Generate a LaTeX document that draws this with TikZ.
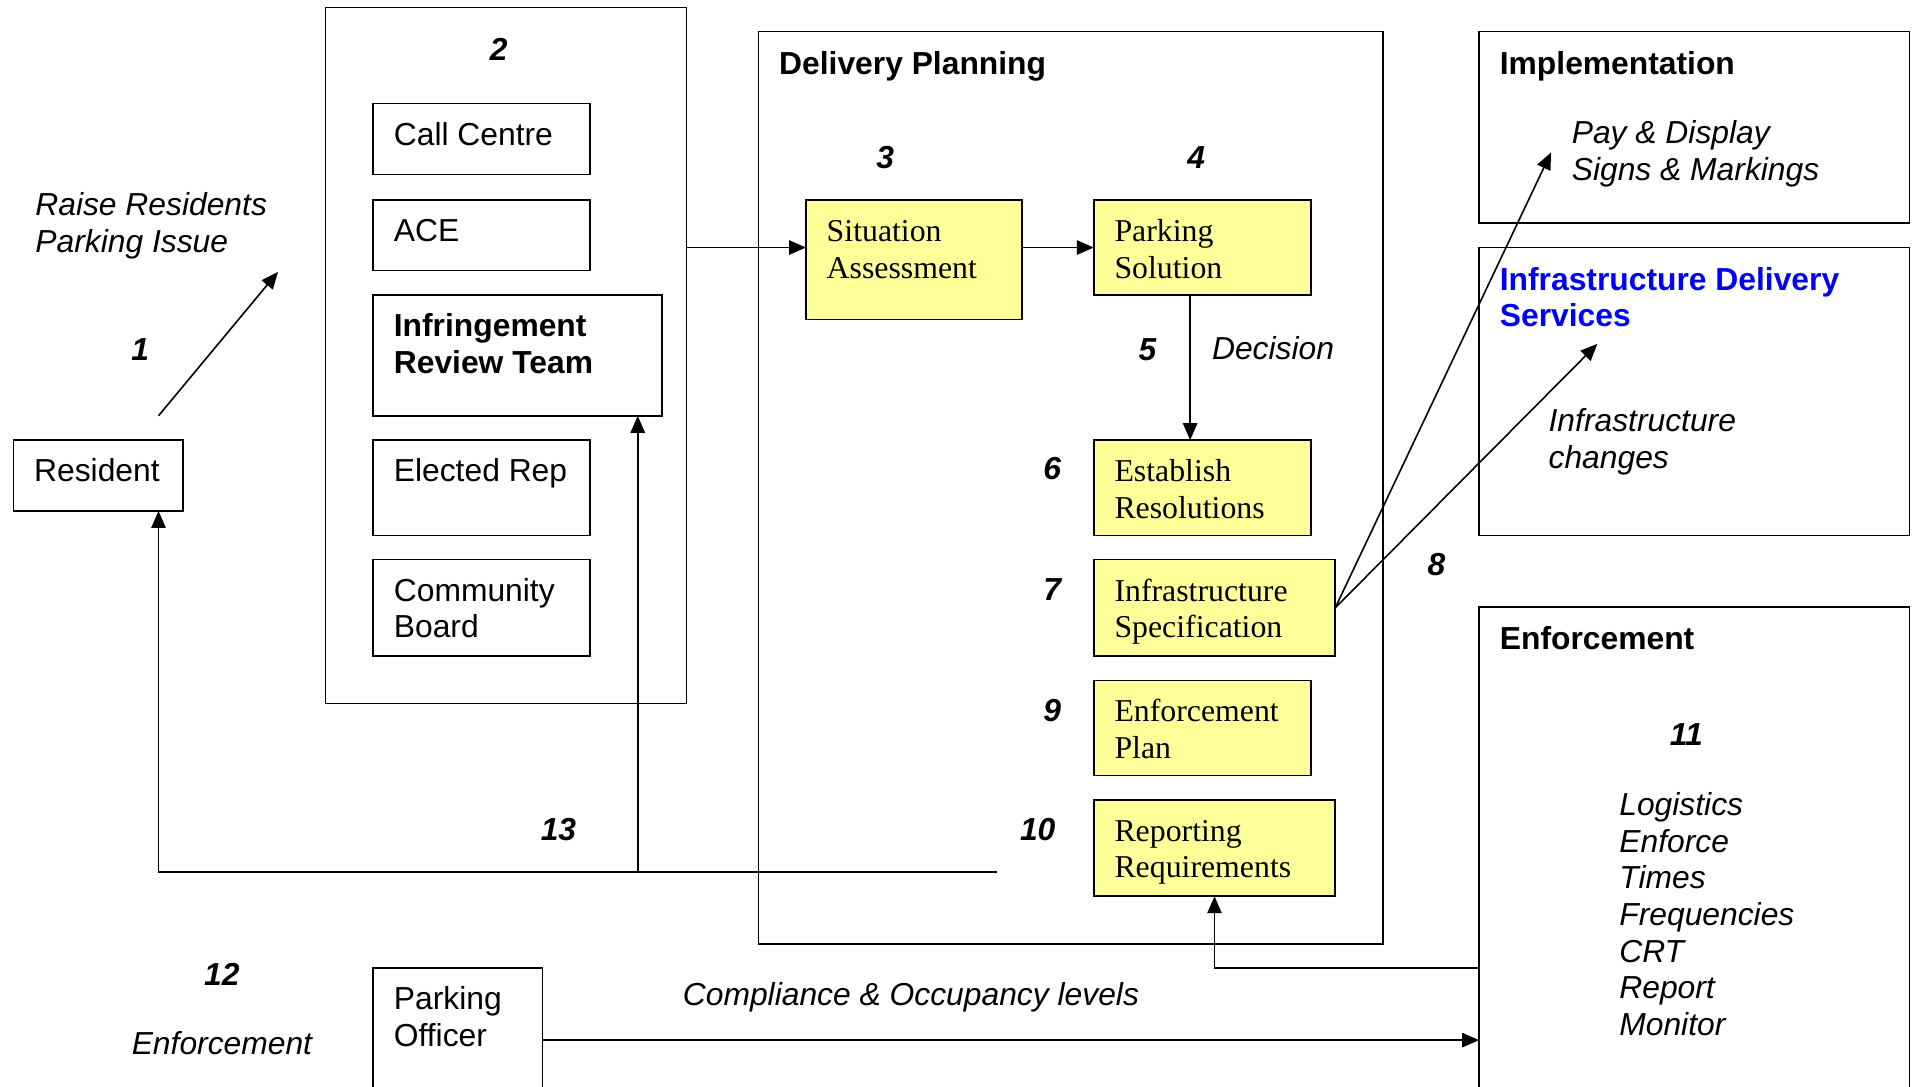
\documentclass[tikz,border=0pt]{standalone}
\usepackage{fontspec}
\setmainfont{Liberation Serif}
\setsansfont{Liberation Sans}
\usetikzlibrary{arrows.meta,calc}
\definecolor{paleyellow}{HTML}{FFFF99}
\definecolor{idsblue}{HTML}{0000FF}
\newcommand{\pu}{0.46pt}
\newcommand{\twelve}{\fontsize{12}{13.8}\selectfont}

\begin{document}
\begin{tikzpicture}[x=0.46pt, y=-0.46pt,
  frame/.style={draw=black, line width=0.6pt, rectangle, anchor=north west, inner sep=0pt, outer sep=0pt},
  stage/.style={frame, fill=paleyellow},
  txt/.style={anchor=north west, inner sep=0pt, outer sep=0pt, align=left, yshift=9.2pt, font=\twelve\sffamily},
  serif/.style={txt, font=\twelve\rmfamily},
  heading/.style={txt, font=\twelve\sffamily\bfseries},
  note/.style={txt, font=\twelve\sffamily\itshape},
  num/.style={anchor=base, inner sep=0pt, yshift=-0.6pt, font=\twelve\sffamily\bfseries\itshape},
  link/.style={line width=0.6pt},
  arr/.style={link, -{Triangle[length=6.4pt,width=5.4pt]}},
]
\useasboundingbox (0,0) rectangle (1568,891);
\fill[white] (0,0) rectangle (1568,891);
\clip (0,0) rectangle (1568,891);

% ---- resident ----
\node[frame, minimum width=139*\pu, minimum height=58*\pu] (res) at (11,361) {};
\node[txt] (rest) at ([shift={(17,33)}]res.north west) {\strut Resident};
\node[note] (raise) at (29,176) {\strut Raise Residents\\Parking Issue};
\node[num] (n1) at (115,294) {1};

% ---- contact channels (2) ----
\node[frame, minimum width=296*\pu, minimum height=571*\pu] (b2) at (267,6) {};
\node[num] (n2) at (409,48) {2};
\node[frame, minimum width=178*\pu, minimum height=58*\pu] (cc) at (306,85) {};
\node[txt] at ([shift={(17,33)}]cc.north west) {\strut Call Centre};
\node[frame, minimum width=178*\pu, minimum height=58*\pu] (ace) at (306,164) {};
\node[txt] at ([shift={(17,33)}]ace.north west) {\strut ACE};
\node[frame, minimum width=237*\pu, minimum height=99*\pu] (irt) at (306,242) {};
\node[heading] at ([shift={(17,33)}]irt.north west) {\strut Infringement\\Review Team};
\node[frame, minimum width=178*\pu, minimum height=78*\pu] (erep) at (306,361) {};
\node[txt] at ([shift={(17,33)}]erep.north west) {\strut Elected Rep};
\node[frame, minimum width=178*\pu, minimum height=79*\pu] (cb) at (306,459) {};
\node[txt] at ([shift={(17,33)}]cb.north west) {\strut Community\\Board};

% ---- delivery planning ----
\node[frame, minimum width=512*\pu, minimum height=748*\pu] (dp) at (622,26) {};
\node[heading] at ([shift={(17,34)}]dp.north west) {\strut Delivery Planning};
\node[stage, minimum width=177*\pu, minimum height=98*\pu] (sa) at (661,164) {};
\node[serif] at ([shift={(17,33)}]sa.north west) {\strut Situation\\Assessment};
\node[stage, minimum width=178*\pu, minimum height=78*\pu] (ps) at (897,164) {};
\node[serif] at ([shift={(17,33)}]ps.north west) {\strut Parking\\Solution};
\node[stage, minimum width=178*\pu, minimum height=78*\pu] (er) at (897,361) {};
\node[serif] at ([shift={(17,33)}]er.north west) {\strut Establish\\Resolutions};
\node[stage, minimum width=198*\pu, minimum height=79*\pu] (is) at (897,459) {};
\node[serif] at ([shift={(17,33)}]is.north west) {\strut Infrastructure\\Specification};
\node[stage, minimum width=178*\pu, minimum height=78*\pu] (ep) at (897,558) {};
\node[serif] at ([shift={(17,33)}]ep.north west) {\strut Enforcement\\Plan};
\node[stage, minimum width=198*\pu, minimum height=79*\pu] (rr) at (897,656) {};
\node[serif] at ([shift={(17,33)}]rr.north west) {\strut Reporting\\Requirements};
\node[num] (n3) at (726,137) {3};
\node[num] (n4) at (981,137) {4};
\node[num] (n5) at (941,294) {5};
\node[note] (dec) at (994,294) {\strut Decision};
\node[num] (n6) at (863,392) {6};
\node[num] (n7) at (863,491) {7};
\node[num] (n9) at (863,590) {9};
\node[num] (n10) at (851,688) {10};

% ---- implementation / infrastructure delivery ----
\node[frame, minimum width=353*\pu, minimum height=157*\pu] (impl) at (1213,26) {};
\node[heading] at ([shift={(17,34)}]impl.north west) {\strut Implementation};
\node[note] at (1289,117) {\strut Pay \& Display\\Signs \& Markings};
\node[frame, minimum width=353*\pu, minimum height=236*\pu] (ids) at (1213,203) {};
\node[heading, text=idsblue] at ([shift={(17,34)}]ids.north west) {\strut Infrastructure Delivery\\Services};
\node[note] at (1270,353) {\strut Infrastructure\\changes};
\node[num] (n8) at (1178,471) {8};

% ---- enforcement ----
\node[frame, minimum width=353*\pu, minimum height=420*\pu] (enf) at (1213,498) {};
\node[heading] at ([shift={(17,34)}]enf.north west) {\strut Enforcement};
\node[num] (n11) at (1383,610) {11};
\node[note] at (1328,668) {\strut Logistics\\Enforce\\Times\\Frequencies\\CRT\\Report\\Monitor};

% ---- parking officer ----
\node[frame, minimum width=139*\pu, minimum height=118*\pu] (po) at (306,794) {};
\node[txt] at ([shift={(17,33)}]po.north west) {\strut Parking\\Officer};
\node[num] (n12) at (182,807) {12};
\node[note, anchor=north] at (182,864) {\strut Enforcement};
\node[note] (comp) at (560,824) {\strut Compliance \& Occupancy levels};
\node[num] (n13) at (458,688) {13};

% ---- connector end points ----
\coordinate (raiseFrom) at ([shift={(-20,-20)}]res.north east);
\coordinate (raiseTo) at (228,223);
\coordinate (resIn) at ([xshift=-20*\pu]res.south east);
\coordinate (irtIn) at ([xshift=-20*\pu]irt.south east);
\coordinate (reportOut) at (818,715);
\coordinate (implTo) at (1272,125);
\coordinate (idsTo) at (1310,282);
\coordinate (enfOut) at ([yshift=-296*\pu]enf.north west);

% ---- connectors ----
\draw[arr] (raiseFrom) -- (raiseTo);
\draw[arr] (b2.east |- ps.west) -- (sa.west |- ps.west);
\draw[arr] (sa.east |- ps.west) -- (ps.west);
\draw[arr] ([xshift=-10*\pu]ps.south) -- ([xshift=-10*\pu]ps.south |- er.north);
\draw[arr] (is.east) -- (implTo);
\draw[arr] (is.east) -- (idsTo);
\draw[arr] (reportOut) -| (resIn);
\draw[arr] (irtIn |- reportOut) -- (irtIn);
\draw[arr] (enfOut) -| (rr.south);
\draw[arr] (po.east) -- (po.east -| enf.west);
\end{tikzpicture}
\end{document}
